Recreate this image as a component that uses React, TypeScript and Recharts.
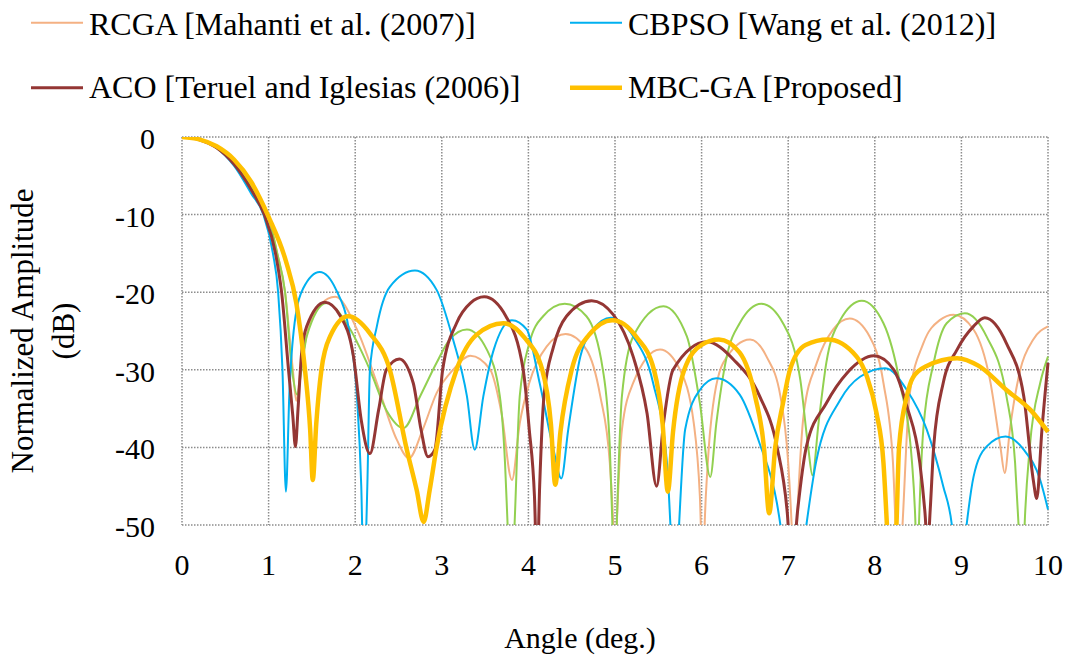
import React from 'react';
import { LineChart, Line, XAxis, YAxis, CartesianGrid, Legend, Label } from 'recharts';

// ---- Data (angle in degrees, normalized amplitude in dB) ----
const xTicks = [0, 1, 2, 3, 4, 5, 6, 7, 8, 9, 10];
const yTicks = [0, -10, -20, -30, -40, -50];

const rcgaAngle = [0, 0.2, 0.4, 0.6, 0.8, 0.99, 1.1, 1.19, 1.28, 1.32, 1.37, 1.45, 1.6, 1.77, 2.02, 2.25, 2.48, 2.62, 2.78, 2.94, 3.13, 3.33, 3.56, 3.69, 3.81, 3.9, 4.01, 4.21, 4.43, 4.67, 4.83, 4.94, 4.98, 5.0, 5.02, 5.08, 5.21, 5.52, 5.75, 5.91, 5.98, 6.01, 6.05, 6.1, 6.25, 6.56, 6.75, 6.91, 7.0, 7.04, 7.07, 7.1, 7.18, 7.33, 7.52, 7.71, 7.94, 8.1, 8.21, 8.24, 8.28, 8.32, 8.4, 8.56, 8.75, 8.91, 9.14, 9.33, 9.45, 9.5, 9.56, 9.68, 9.83, 10.0];
const rcgaDb = [0, -0.3, -1.3, -3.3, -6.5, -10, -15, -20, -30, -34, -30, -25, -21.6, -20.6, -24.8, -31.7, -39, -41.4, -37.7, -33, -30, -28.2, -30, -35.6, -44.2, -36.9, -31.7, -27, -25.4, -27.4, -33.4, -42, -50, -56, -50, -37.7, -31.7, -27.4, -30, -36.9, -46.3, -55, -46, -37.7, -29.1, -26.1, -28.3, -33.4, -42, -50, -58, -50, -35.6, -29.1, -24.8, -23.4, -25.7, -31.7, -42, -50, -58, -50, -33.4, -26.6, -23.6, -22.9, -24.8, -31.3, -39.9, -43.3, -37.7, -30, -26.1, -24.4];

const greenAngle = [0, 0.2, 0.4, 0.6, 0.8, 0.99, 1.1, 1.19, 1.27, 1.33, 1.38, 1.44, 1.67, 1.9, 2.17, 2.36, 2.56, 2.75, 2.94, 3.09, 3.29, 3.52, 3.67, 3.73, 3.76, 3.8, 3.84, 3.9, 4.01, 4.17, 4.42, 4.67, 4.86, 4.94, 4.97, 4.995, 5.02, 5.08, 5.21, 5.56, 5.83, 5.98, 6.1, 6.17, 6.29, 6.44, 6.69, 6.94, 7.14, 7.23, 7.28, 7.35, 7.44, 7.6, 7.85, 8.1, 8.29, 8.43, 8.47, 8.49, 8.51, 8.56, 8.68, 8.83, 9.04, 9.29, 9.52, 9.62, 9.66, 9.7, 9.73, 9.79, 9.91, 10.0];
const greenDb = [0, -0.3, -1.3, -3.3, -6.5, -10, -15, -20, -30, -33.2, -30, -25.7, -21.4, -24, -30, -35.2, -37.5, -33.4, -29.1, -26.1, -24.8, -27.4, -33.4, -42, -50, -60, -50, -33.4, -26.6, -23.1, -21.5, -23.1, -30, -39.9, -50, -60, -50, -33.4, -25.7, -21.8, -25.7, -34.3, -43.8, -36.9, -28.3, -24, -21.5, -24, -31.3, -39.9, -43.6, -36.9, -29.1, -23.6, -21.1, -24, -31.7, -42, -50, -58, -50, -37.7, -29.1, -24, -22.7, -25.7, -33.4, -42, -50, -60, -50, -39.9, -31.7, -28.3];

const cbpsoAngle = [0, 0.2, 0.4, 0.6, 0.8, 0.94, 1.05, 1.11, 1.16, 1.2, 1.24, 1.3, 1.4, 1.59, 1.78, 1.94, 2.02, 2.07, 2.1, 2.14, 2.17, 2.25, 2.4, 2.69, 2.94, 3.13, 3.29, 3.38, 3.48, 3.6, 3.81, 3.98, 4.13, 4.29, 4.38, 4.46, 4.6, 4.75, 4.95, 5.21, 5.44, 5.6, 5.64, 5.69, 5.74, 5.81, 5.98, 6.17, 6.44, 6.67, 6.87, 6.91, 7.05, 7.21, 7.32, 7.6, 7.83, 8.12, 8.37, 8.6, 8.79, 8.89, 8.97, 9.06, 9.14, 9.29, 9.51, 9.72, 9.91, 10.0];
const cbpsoDb = [0, -0.35, -1.4, -3.7, -7.3, -10, -15, -20, -30, -45.7, -33, -24, -19.5, -17.4, -19.7, -25.7, -33.4, -45, -58, -45, -30, -24.4, -19.3, -17.2, -19.7, -26.1, -33.4, -40.3, -33.4, -27.4, -23.6, -24.8, -31.7, -40.3, -44, -37.7, -28.3, -24.8, -23.3, -25.7, -31.7, -42, -50, -62, -50, -37.7, -32.6, -31.1, -33.2, -39.5, -47.2, -50, -65, -50, -42, -33.9, -30.9, -29.8, -32.6, -37.7, -45, -50, -60, -50, -43.8, -39.9, -38.6, -40.3, -44.2, -48];

const acoAngle = [0, 0.2, 0.4, 0.6, 0.8, 0.95, 1.08, 1.15, 1.23, 1.28, 1.31, 1.34, 1.38, 1.44, 1.65, 1.83, 1.98, 2.07, 2.17, 2.27, 2.36, 2.51, 2.67, 2.76, 2.84, 2.92, 3.01, 3.17, 3.33, 3.49, 3.74, 3.94, 4.01, 4.07, 4.1, 4.13, 4.18, 4.29, 4.44, 4.73, 4.98, 5.21, 5.37, 5.48, 5.56, 5.67, 6.06, 6.37, 6.67, 6.87, 6.99, 7.04, 7.11, 7.21, 7.44, 7.68, 7.99, 8.22, 8.37, 8.52, 8.58, 8.61, 8.64, 8.68, 8.79, 8.95, 9.14, 9.27, 9.52, 9.72, 9.83, 9.87, 9.93, 10.0];
const acoDb = [0, -0.35, -1.4, -3.5, -6.8, -10, -15, -20, -30, -36, -39.9, -35, -28, -24.4, -21.3, -23.1, -28.3, -36.5, -40.8, -35.2, -30, -28.6, -31.7, -37.7, -41.2, -40.3, -30, -24, -21.4, -20.6, -23.1, -30, -37.7, -46.3, -56, -45, -33.4, -27, -23.1, -21.1, -22.9, -28.3, -35.6, -45, -36.9, -30, -26.4, -28.7, -33.4, -39.9, -48.5, -56, -48, -39.9, -34.3, -30.4, -28.2, -30, -34.7, -42, -48.5, -53, -48, -39.9, -31.7, -27.4, -24.4, -23.3, -26.6, -33.4, -44.2, -46.6, -37.7, -29.1];

const mbcgaAngle = [0, 0.2, 0.4, 0.6, 0.8, 1.0, 1.2, 1.32, 1.42, 1.48, 1.51, 1.55, 1.61, 1.71, 1.92, 2.17, 2.4, 2.59, 2.71, 2.79, 2.86, 2.94, 3.17, 3.4, 3.71, 3.95, 4.16, 4.26, 4.31, 4.37, 4.5, 4.7, 4.97, 5.25, 5.45, 5.55, 5.61, 5.67, 5.8, 6.0, 6.2, 6.44, 6.62, 6.72, 6.78, 6.85, 6.94, 7.02, 7.2, 7.46, 7.79, 7.91, 8.02, 8.1, 8.14, 8.19, 8.25, 8.28, 8.37, 8.44, 8.6, 8.95, 9.2, 9.52, 9.8, 10.0];
const mbcgaDb = [0, -0.3, -1.2, -2.9, -5.8, -10.3, -16, -21.4, -30, -37.7, -44.2, -37, -30, -25.7, -23.1, -25.3, -30, -40, -45.5, -49.6, -45.5, -40, -30, -25.5, -24, -25.8, -30, -37, -44.8, -38, -30, -25.5, -23.6, -25.8, -30, -37, -45.7, -38, -30, -26.8, -26.1, -27.8, -33.5, -40, -48.5, -40, -34.3, -30, -26.8, -26.1, -28.3, -30.9, -35.6, -42, -50, -62, -50, -40, -33.4, -31, -29.5, -28.5, -29.5, -32.6, -35.2, -38];

const legendOrder = [
  'RCGA [Mahanti et al. (2007)]',
  'CBPSO [Wang et al. (2012)]',
  'ACO [Teruel and Iglesias (2006)]',
  'MBC-GA [Proposed]',
];

const toPoints = (xs: number[], ys: number[]) => xs.map((x, i) => ({ x, y: ys[i] }));

const FONT = "'Liberation Serif', 'Times New Roman', Times, serif";

const legendSlots = [
  { ix: 31, tx: 89, ly: 22.7, by: 35 },
  { ix: 570, tx: 628, ly: 22.7, by: 35 },
  { ix: 31, tx: 89, ly: 87.7, by: 98 },
  { ix: 570, tx: 628, ly: 87.7, by: 98 },
];

const CustomLegend = (props: any) => {
  const items = (props.payload || []).filter((p: any) => p.type !== 'none');
  return (
    <svg width={1068} height={115} style={{ display: 'block', overflow: 'visible' }}>
      {items.map((item: any, i: number) => {
        const idx = legendOrder.indexOf(item.value);
        const s = legendSlots[idx >= 0 ? idx : i];
        if (!s) return null;
        const sw = (item.payload && item.payload.strokeWidth) || 2;
        return (
          <g key={item.value}>
            <line x1={s.ix} x2={s.ix + 52} y1={s.ly} y2={s.ly} stroke={item.color} strokeWidth={sw} />
            <text x={s.tx} y={s.by} fontSize={32} fontFamily={FONT} fill="#000">
              {item.value}
            </text>
          </g>
        );
      })}
    </svg>
  );
};

const XTick = (props: any) => {
  const { x, y, payload } = props;
  return (
    <text x={x} y={y + 50} textAnchor="middle" fontSize={30} fontFamily={FONT} fill="#000">
      {payload.value}
    </text>
  );
};

const YTick = (props: any) => {
  const { x, y, payload } = props;
  return (
    <text x={x - 27} y={y + 12} textAnchor="end" fontSize={30} fontFamily={FONT} fill="#000">
      {payload.value}
    </text>
  );
};

export default function App() {
  return (
    <div style={{ width: 1068, height: 655 }}>
      <style>{'html, body { margin: 0; padding: 0; }'}</style>
      <LineChart width={1068} height={655} margin={{ top: 137, right: 20, left: 0, bottom: 0 }}>
        <CartesianGrid stroke="#8c8c8c" strokeWidth={1.5} strokeDasharray="1.5 1.5" />
        <XAxis
          dataKey="x"
          type="number"
          domain={[0, 10]}
          ticks={xTicks}
          height={130}
          axisLine={false}
          tickLine={false}
          tickSize={0}
          tickMargin={0}
          tick={<XTick />}
          interval={0}
        >
          <Label
            content={() => (
              <text x={580} y={648} textAnchor="middle" fontSize={30} fontFamily={FONT} fill="#000">
                Angle (deg.)
              </text>
            )}
          />
        </XAxis>
        <YAxis
          type="number"
          domain={[-50, 0]}
          ticks={yTicks}
          allowDataOverflow
          width={182}
          axisLine={false}
          tickLine={false}
          tickSize={0}
          tickMargin={0}
          tick={<YTick />}
          interval={0}
        >
          <Label
            content={() => (
              <g>
                <text x={33} y={331} transform="rotate(-90, 33, 331)" textAnchor="middle" fontSize={31} fontFamily={FONT} fill="#000">
                  Normalized Amplitude
                </text>
                <text x={74} y={331} transform="rotate(-90, 74, 331)" textAnchor="middle" fontSize={31} fontFamily={FONT} fill="#000">
                  (dB)
                </text>
              </g>
            )}
          />
        </YAxis>
        <Legend
          layout="horizontal"
          verticalAlign="middle"
          align="center"
          wrapperStyle={{ top: 0, left: 0, width: 1068, height: 115 }}
          content={<CustomLegend />}
        />
        <Line name="RCGA [Mahanti et al. (2007)]" data={toPoints(rcgaAngle, rcgaDb)} dataKey="y" type="monotone" stroke="#F4B183" strokeWidth={2} dot={false} isAnimationActive={false} />
        <Line name="Other" legendType="none" data={toPoints(greenAngle, greenDb)} dataKey="y" type="monotone" stroke="#92D050" strokeWidth={2} dot={false} isAnimationActive={false} />
        <Line name="CBPSO [Wang et al. (2012)]" data={toPoints(cbpsoAngle, cbpsoDb)} dataKey="y" type="monotone" stroke="#00B0F0" strokeWidth={2} dot={false} isAnimationActive={false} />
        <Line name="ACO [Teruel and Iglesias (2006)]" data={toPoints(acoAngle, acoDb)} dataKey="y" type="monotone" stroke="#943634" strokeWidth={3} dot={false} isAnimationActive={false} />
        <Line name="MBC-GA [Proposed]" data={toPoints(mbcgaAngle, mbcgaDb)} dataKey="y" type="monotone" stroke="#FFC000" strokeWidth={4.5} dot={false} isAnimationActive={false} />
      </LineChart>
    </div>
  );
}
